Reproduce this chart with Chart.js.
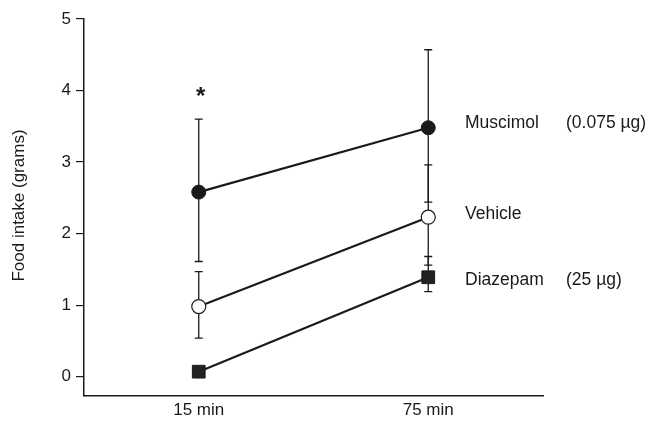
<!DOCTYPE html>
<html>
<head>
<meta charset="utf-8">
<script src="https://cdn.jsdelivr.net/npm/chart.js@4/dist/chart.umd.min.js"></script>
<style>
  html, body { margin: 0; padding: 0; background: #fff; }
  #wrap { width: 650px; height: 423px; }
</style>
</head>
<body>
<div id="wrap"><canvas id="c" width="650" height="423"></canvas></div>
<script>
// Time points after injection
const categories = ['15 min', '75 min'];

// Mean food intake (grams) per treatment
const muscimol = [2.58, 3.48];
const vehicle  = [0.98, 2.23];
const diazepam = [0.07, 1.39];

// Error bar limits (grams)
const muscimolHigh = [3.60, 4.57];
const muscimolLow  = [1.61, 2.44];
const vehicleHigh  = [1.47, 2.96];
const vehicleLow   = [0.54, 1.56];
const diazepamHigh = [0.07, 1.68];
const diazepamLow  = [0.07, 1.19];

// Y axis ticks
const yTicks = [0, 1, 2, 3, 4, 5];

// Series labels drawn at the right of the plot
const seriesNames = ['Muscimol', 'Vehicle', 'Diazepam'];
const seriesDoses = ['(0.075 µg)', '', '(25 µg)'];

// Significance marker
const sigMarker = '*';
const sigIndex = 0; // over the 15 min muscimol point

const yTitle = 'Food intake (grams)';

const INK = '#1a1a1a';
const FONT = '"Liberation Sans", Arial, Helvetica, sans-serif';

Chart.defaults.font.family = FONT;
Chart.defaults.color = INK;

const errorBars = {
  id: 'errorBars',
  beforeDatasetsDraw(chart) {
    const ctx = chart.ctx;
    const x = chart.scales.x, y = chart.scales.y;
    const highs = [muscimolHigh, vehicleHigh, diazepamHigh];
    const lows  = [muscimolLow, vehicleLow, diazepamLow];
    ctx.save();
    ctx.strokeStyle = INK;
    ctx.lineWidth = 1.3;
    highs.forEach((hi, s) => {
      hi.forEach((h, i) => {
        const l = lows[s][i];
        if (h === l) return;
        const px = x.getPixelForValue(i);
        const top = y.getPixelForValue(h), bot = y.getPixelForValue(l);
        ctx.beginPath();
        ctx.moveTo(px, top); ctx.lineTo(px, bot);
        ctx.moveTo(px - 4, top); ctx.lineTo(px + 4, top);
        ctx.moveTo(px - 4, bot); ctx.lineTo(px + 4, bot);
        ctx.stroke();
      });
    });
    ctx.restore();
  }
};

const annotations = {
  id: 'annotations',
  afterDraw(chart) {
    const ctx = chart.ctx;
    const x = chart.scales.x, y = chart.scales.y;
    const area = chart.chartArea;
    const lastVals = [muscimol, vehicle, diazepam].map(a => a[a.length - 1]);
    const dy = [-5, -3, 3];
    ctx.save();
    ctx.fillStyle = INK;
    ctx.font = '17.5px ' + FONT;
    ctx.textBaseline = 'middle';
    ctx.textAlign = 'left';
    seriesNames.forEach((name, i) => {
      const py = y.getPixelForValue(lastVals[i]) + dy[i];
      ctx.fillText(name, area.right - 78, py);
      if (seriesDoses[i]) ctx.fillText(seriesDoses[i], area.right + 23, py);
    });

    // significance asterisk above the error bar
    ctx.font = 'bold 24px ' + FONT;
    ctx.textAlign = 'center';
    ctx.textBaseline = 'alphabetic';
    ctx.fillText(sigMarker, x.getPixelForValue(sigIndex) + 2, y.getPixelForValue(muscimolHigh[sigIndex]) - 15);

    // y axis title
    ctx.font = '17px ' + FONT;
    ctx.translate(19, (area.top + area.bottom) / 2 - 2);
    ctx.rotate(-Math.PI / 2);
    ctx.textAlign = 'center';
    ctx.textBaseline = 'middle';
    ctx.fillText(yTitle, 0, 0);
    ctx.restore();
  }
};

new Chart(document.getElementById('c'), {
  type: 'line',
  data: {
    labels: categories,
    datasets: [
      { label: seriesNames[0], data: muscimol, borderColor: INK, borderWidth: 2.2,
        pointStyle: 'circle', pointRadius: 7, pointBackgroundColor: INK, pointBorderColor: INK, pointBorderWidth: 1 },
      { label: seriesNames[1], data: vehicle, borderColor: INK, borderWidth: 2.2,
        pointStyle: 'circle', pointRadius: 7, pointBackgroundColor: '#fff', pointBorderColor: INK, pointBorderWidth: 1.2 },
      { label: seriesNames[2], data: diazepam, borderColor: INK, borderWidth: 2.2,
        pointStyle: 'rect', pointRadius: 9, pointBackgroundColor: '#222', pointBorderColor: INK, pointBorderWidth: 1 }
    ]
  },
  options: {
    responsive: false,
    animation: false,
    events: [],
    layout: { padding: { top: 19, right: 107, left: 0, bottom: 0 } },
    plugins: { legend: { display: false }, tooltip: { enabled: false } },
    scales: {
      x: {
        type: 'category',
        offset: true,
        grid: { display: false, drawTicks: false },
        border: { display: true, color: INK, width: 1.5 },
        ticks: { font: { size: 17 }, color: INK, padding: 4, maxRotation: 0 },
        afterFit(scale) { scale.height = 27; }
      },
      y: {
        min: -0.27,
        max: 5,
        grid: { drawOnChartArea: false, drawTicks: true, tickLength: 8, color: INK, lineWidth: 1.2 },
        border: { display: true, color: INK, width: 1.5 },
        ticks: { font: { size: 17 }, color: INK, padding: 5 },
        afterBuildTicks(scale) { scale.ticks = yTicks.map(v => ({ value: v })); },
        afterFit(scale) { scale.width = 84; }
      }
    }
  },
  plugins: [errorBars, annotations]
});
</script>
</body>
</html>
